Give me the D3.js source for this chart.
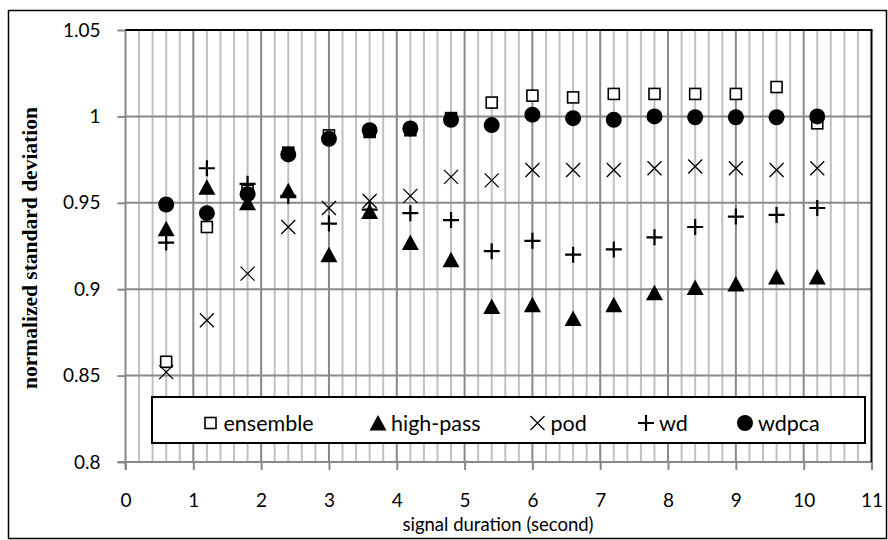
<!DOCTYPE html>
<html>
<head>
<meta charset="utf-8">
<script src="https://cdn.jsdelivr.net/npm/d3@7"></script>
<style>
  html, body { margin: 0; padding: 0; background: #fff; }
  svg { display: block; }
</style>
</head>
<body>
<svg id="chart" width="888" height="540"></svg>
<script>
// Signal duration (seconds) at which each method was evaluated
const durations = [0.6, 1.2, 1.8, 2.4, 3.0, 3.6, 4.2, 4.8, 5.4, 6.0, 6.6, 7.2, 7.8, 8.4, 9.0, 9.6, 10.2];

// Normalized standard deviation per method
const ensemble = [0.858, 0.936, 0.957, 0.979, 0.989, 0.991, 0.992, 0.999, 1.008, 1.012, 1.011, 1.013, 1.013, 1.013, 1.013, 1.017, 0.996];
const highPass = [0.935, 0.959, 0.950, 0.957, 0.920, 0.945, 0.927, 0.917, 0.890, 0.891, 0.883, 0.891, 0.898, 0.901, 0.903, 0.907, 0.907];
const pod      = [0.852, 0.882, 0.909, 0.936, 0.947, 0.951, 0.954, 0.965, 0.963, 0.969, 0.969, 0.969, 0.970, 0.971, 0.970, 0.969, 0.970];
const wd       = [0.927, 0.970, 0.961, 0.954, 0.938, 0.946, 0.944, 0.940, 0.922, 0.928, 0.920, 0.923, 0.930, 0.936, 0.942, 0.943, 0.947];
const wdpca    = [0.949, 0.944, 0.955, 0.978, 0.987, 0.992, 0.993, 0.998, 0.995, 1.001, 0.999, 0.998, 1.000, 0.9995, 0.9995, 0.9995, 1.000];

const seriesNames = ["ensemble", "high-pass", "pod", "wd", "wdpca"];
const seriesValues = [ensemble, highPass, pod, wd, wdpca];
const seriesShapes = ["square", "triangle", "cross", "plus", "circle"];

const xTicks = [0, 1, 2, 3, 4, 5, 6, 7, 8, 9, 10, 11];
const yTicks = [0.8, 0.85, 0.9, 0.95, 1, 1.05];
const yTickLabels = ["0.8", "0.85", "0.9", "0.95", "1", "1.05"];

const svg = d3.select("#chart");
const fontSans = "Lato, 'Open Sans', sans-serif";

const plot = { left: 125.5, right: 871.5, top: 30, bottom: 462 };
const x = d3.scaleLinear().domain([0, 11]).range([plot.left, plot.right]);
const y = d3.scaleLinear().domain([0.8, 1.05]).range([plot.bottom, plot.top]);

// Outer chart frame
svg.append("rect")
  .attr("x", 8.5).attr("y", 10.5).attr("width", 878).attr("height", 528)
  .attr("fill", "#fff").attr("stroke", "#000").attr("stroke-width", 1.5);

// Minor vertical gridlines every 0.2 s
const minorX = d3.range(1, 55).map(i => i * 0.2).filter(v => Math.abs(v - Math.round(v)) > 1e-6);
svg.append("g").selectAll("line").data(minorX).join("line")
  .attr("x1", d => x(d)).attr("x2", d => x(d))
  .attr("y1", plot.top).attr("y2", plot.bottom)
  .attr("stroke", "#c0c0c0").attr("stroke-width", 2);

// Major vertical gridlines + x axis ticks
const xAxis = d3.axisBottom(x).tickValues(xTicks).tickSize(8).tickFormat(d3.format("d"));
const gx = svg.append("g").attr("transform", `translate(0,${plot.bottom})`).call(xAxis);
gx.select(".domain").remove();
gx.selectAll(".tick line").attr("stroke", "#888").attr("stroke-width", 2);
gx.selectAll(".tick text")
  .attr("y", 32).attr("dy", "0.71em")
  .attr("font-family", fontSans).attr("font-size", 19).attr("fill", "#000");
svg.append("g").selectAll("line").data(xTicks.slice(1, -1)).join("line")
  .attr("x1", d => x(d)).attr("x2", d => x(d))
  .attr("y1", plot.top).attr("y2", plot.bottom)
  .attr("stroke", "#888").attr("stroke-width", 2);

// Horizontal gridlines + y axis ticks
const yAxis = d3.axisLeft(y).tickValues(yTicks).tickSize(8)
  .tickFormat((d, i) => yTickLabels[i]);
const gy = svg.append("g").attr("transform", `translate(${plot.left},0)`).call(yAxis);
gy.select(".domain").remove();
gy.selectAll(".tick line").attr("stroke", "#888").attr("stroke-width", 2);
gy.selectAll(".tick text")
  .attr("x", -25)
  .attr("font-family", fontSans).attr("font-size", 19).attr("fill", "#000");
svg.append("g").selectAll("line").data(yTicks).join("line")
  .attr("x1", plot.left).attr("x2", plot.right)
  .attr("y1", d => y(d)).attr("y2", d => y(d))
  .attr("stroke", "#888").attr("stroke-width", 2);

// Axis lines: grey left and bottom, black top and right
svg.append("line").attr("x1", plot.left).attr("x2", plot.left)
  .attr("y1", plot.top).attr("y2", plot.bottom + 8)
  .attr("stroke", "#888").attr("stroke-width", 2);
svg.append("line").attr("x1", plot.left - 8).attr("x2", plot.right)
  .attr("y1", plot.bottom).attr("y2", plot.bottom)
  .attr("stroke", "#888").attr("stroke-width", 2);
svg.append("line").attr("x1", plot.left).attr("x2", plot.right + 1)
  .attr("y1", plot.top).attr("y2", plot.top)
  .attr("stroke", "#000").attr("stroke-width", 2);
svg.append("line").attr("x1", plot.right).attr("x2", plot.right)
  .attr("y1", plot.top).attr("y2", plot.bottom)
  .attr("stroke", "#000").attr("stroke-width", 2);

// Marker drawing
function drawMarker(g, shape) {
  switch (shape) {
    case "square":
      g.append("rect").attr("x", -5.5).attr("y", -5.5).attr("width", 11).attr("height", 11)
        .attr("fill", "#fff").attr("stroke", "#000").attr("stroke-width", 1.6);
      break;
    case "triangle":
      g.append("path").attr("d", "M0,-8 L8.5,7.5 L-8.5,7.5 Z").attr("fill", "#000");
      break;
    case "cross":
      g.append("path").attr("d", "M-7,-7 L7,7 M-7,7 L7,-7")
        .attr("stroke", "#000").attr("stroke-width", 1.3).attr("fill", "none");
      break;
    case "plus":
      g.append("path").attr("d", "M-8,0 L8,0 M0,-8 L0,8")
        .attr("stroke", "#000").attr("stroke-width", 2.2).attr("fill", "none");
      break;
    case "circle":
      g.append("circle").attr("r", 8).attr("fill", "#000");
      break;
  }
}

// Data points, one group per series
seriesValues.forEach((vals, si) => {
  const gs = svg.append("g").attr("class", "series-" + seriesNames[si]);
  vals.forEach((v, i) => {
    const g = gs.append("g").attr("transform", `translate(${x(durations[i])},${y(v)})`);
    drawMarker(g, seriesShapes[si]);
  });
});

// Legend
const legend = svg.append("g");
legend.append("rect")
  .attr("x", 152).attr("y", 397).attr("width", 713).attr("height", 46)
  .attr("fill", "#fff").attr("stroke", "#000").attr("stroke-width", 2);
const legendMarkerX = [210.5, 378, 537.5, 646, 745];
seriesNames.forEach((name, i) => {
  const g = legend.append("g").attr("transform", `translate(${legendMarkerX[i]},423)`);
  drawMarker(g, seriesShapes[i]);
  legend.append("text")
    .attr("x", legendMarkerX[i] + 13).attr("y", 431)
    .attr("font-family", fontSans).attr("font-size", 21.5).attr("fill", "#000")
    .text(name);
});

// Axis titles
svg.append("text")
  .attr("x", 498).attr("y", 531)
  .attr("text-anchor", "middle")
  .attr("font-family", fontSans).attr("font-size", 18.5).attr("fill", "#000")
  .text("signal duration (second)");

svg.append("text")
  .attr("transform", `translate(37,${(plot.top + plot.bottom) / 2 + 2}) rotate(-90)`)
  .attr("text-anchor", "middle")
  .attr("font-family", "'Liberation Serif', 'DejaVu Serif', serif")
  .attr("font-weight", "bold").attr("font-size", 21.5).attr("fill", "#000")
  .text("normalized standard deviation");
</script>
</body>
</html>
